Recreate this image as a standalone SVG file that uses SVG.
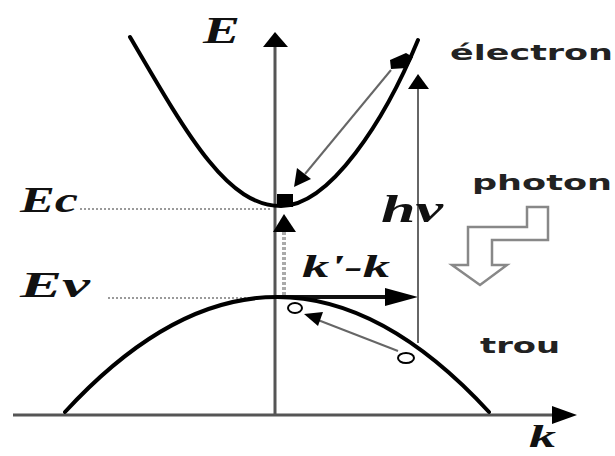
<svg xmlns="http://www.w3.org/2000/svg" width="615" height="456" viewBox="0 0 615 456">
<style>
.sym{font-family:"Liberation Serif","Times New Roman",serif;font-weight:bold;font-style:italic;fill:#111}
.word{font-family:"DejaVu Sans","Liberation Sans",sans-serif;font-weight:bold;fill:#222}
.band{fill:none;stroke:#000;stroke-width:4;stroke-linecap:round}
.axis{stroke:#555;stroke-width:3;fill:none}
.dot{stroke:#9a9a9a;stroke-width:2;stroke-dasharray:2 2;fill:none}
.thin{stroke:#666;stroke-width:2;fill:none}
.head{fill:#000}
</style>
<rect width="615" height="456" fill="#fff"/>
<g id="connectors">
  <line class="axis" x1="13" y1="415" x2="560" y2="415"/>
  <polygon class="head" points="577,415 552,406 552,424"/>
  <line class="axis" x1="275" y1="45" x2="275" y2="415" stroke="#666"/>
  <polygon class="head" points="275,32 263,47 288,47"/>
  <line class="dot" x1="80" y1="209" x2="272" y2="209"/>
  <line class="dot" x1="108" y1="298" x2="272" y2="298"/>
  <line x1="284" y1="232" x2="284" y2="296" stroke="#aaa" stroke-width="4" stroke-dasharray="3 2"/>
  <polygon class="head" points="284,214 273,232 296,232"/>
  <line x1="275" y1="297" x2="392" y2="297" stroke="#111" stroke-width="4"/>
  <polygon class="head" points="418,297 385,288 385,306"/>
  <line class="thin" x1="418" y1="88" x2="418" y2="343" stroke="#777"/>
  <polygon class="head" points="418,74 408,89 429,89"/>
  <line class="thin" x1="391" y1="70" x2="305" y2="174"/>
  <polygon class="head" points="294,187 297,168 311,179"/>
  <line class="thin" x1="398" y1="351" x2="318" y2="320"/>
  <polygon class="head" points="304,314 323,312 318,326"/>
</g>
<g id="conduction-band">
  <path class="band" d="M130,37 C190,140 228,206 281,206 C330,206 385,120 418,40"/>
</g>
<g id="valence-band">
  <path class="band" d="M65,412 Q277,182 489,412"/>
</g>
<g id="electron-top">
  <polygon points="390,60 406,53 413,57 407,68 391,69" fill="#000"/>
</g>
<g id="electron-bottom">
  <rect x="277" y="194" width="16" height="13" fill="#000"/>
</g>
<g id="hole-top">
  <ellipse cx="295" cy="308" rx="7" ry="5" fill="#fff" stroke="#000" stroke-width="2"/>
</g>
<g id="hole-bottom">
  <ellipse cx="406" cy="358" rx="8" ry="5" fill="#fff" stroke="#000" stroke-width="2"/>
</g>
<g id="photon-arrow">
  <polygon points="527,207 548,207 548,240 492,240 492,265 507,265 480,285 452,265 468,265 468,227 527,227" fill="none" stroke="#888" stroke-width="2.5" stroke-linejoin="miter"/>
</g>
<g id="labels">
  <text class="sym" x="203" y="43" font-size="38" textLength="37" lengthAdjust="spacingAndGlyphs">E</text>
  <text class="sym" x="20" y="212" font-size="36" textLength="58" lengthAdjust="spacingAndGlyphs">Ec</text>
  <text class="sym" x="20" y="297" font-size="36" textLength="70" lengthAdjust="spacingAndGlyphs">Ev</text>
  <text class="sym" x="381" y="222" font-size="38" textLength="62" lengthAdjust="spacingAndGlyphs">hν</text>
  <text class="sym" x="302" y="277" font-size="32" textLength="88" lengthAdjust="spacingAndGlyphs">k'-k</text>
  <text class="sym" x="529" y="447" font-size="32" textLength="27" lengthAdjust="spacingAndGlyphs">k</text>
  <text class="word" x="450" y="60" font-size="22" textLength="163" lengthAdjust="spacingAndGlyphs">électron</text>
  <text class="word" x="472" y="190" font-size="22" textLength="140" lengthAdjust="spacingAndGlyphs">photon</text>
  <text class="word" x="480" y="353" font-size="22" textLength="80" lengthAdjust="spacingAndGlyphs">trou</text>
</g>
</svg>
